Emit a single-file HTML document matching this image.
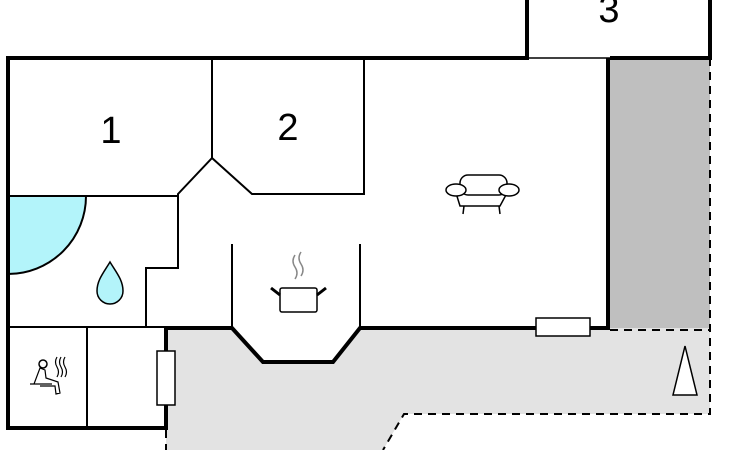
<!DOCTYPE html>
<html><head><style>body{margin:0;background:#fff}svg{display:block}</style></head><body>
<svg width="730" height="450" viewBox="0 0 730 450" xmlns="http://www.w3.org/2000/svg" font-family="Liberation Sans, sans-serif">
<polygon points="166,328 232,328 263,362 333,362 360,328 710,328 710,414 404,414 383,450 166,450" fill="#e3e3e3"/>
<rect x="610" y="58" width="100" height="270" fill="#bfbfbf"/>
<path d="M8,196 L86,196 A78,78 0 0 1 8,274 Z" fill="#b3f4fa" stroke="#000" stroke-width="2"/>
<g stroke="#000" fill="none">
<path d="M8,430 L8,58 L527,58 L527,0 M710,0 L710,58 L610,58" stroke-width="4"/>
<path d="M527,58 L610,58" stroke-width="1.5"/>
<path d="M608,58 L608,328 L360,328 L333,362 L263,362 L232,328 L166,328 L166,428 L8,428" stroke-width="4"/>
<path d="M212,58 L212,158 L178,194 L178,268 L146,268 L146,327 M212,158 L252,194 L364,194 L364,58 M8,196 L178,196 M8,327 L166,327 M87,327 L87,428 M232,244 L232,328 M360,244 L360,328" stroke-width="2"/>
<path d="M710,58 L710,414 L404,414 L383,450 M610,330 L710,330 M166,430 L166,450" stroke-width="2" stroke-dasharray="8,6"/>
</g>
<rect x="157" y="351" width="18" height="54" fill="#fff" stroke="#000" stroke-width="1.5"/>
<rect x="536" y="318" width="54" height="18" fill="#fff" stroke="#000" stroke-width="1.5"/>
<polygon points="673,395 697,395 685,346" fill="#fff" stroke="#000" stroke-width="1.5"/>
<path d="M110,262 C104,272 97,280 97,291 A13,13 0 0 0 123,291 C123,280 116,272 110,262Z" fill="#b3f4fa" stroke="#000" stroke-width="1.5"/>
<g stroke="#000" fill="none" stroke-width="1.5">
<rect x="280" y="288" width="37" height="24" rx="2"/>
<path d="M280,295 L271,288 M317,295 L326,288" stroke-width="3"/>
<path d="M295,255 q-4,6 0,12 q4,6 0,12 M301,252 q-4,6 0,12 q4,6 0,12" stroke="#888"/>
<rect x="460" y="175" width="47" height="20" rx="8"/>
<path d="M456,193 L460,206 L500,206 L507,193 M464,206 L463,214 M499,206 L500,214"/>
<ellipse cx="456" cy="190" rx="10" ry="6" fill="#fff"/>
<ellipse cx="509" cy="190" rx="10" ry="6" fill="#fff"/>
<circle cx="43" cy="364" r="4"/>
<path d="M30,384 L52,384 M34,384 L40,368 L45,370 L46,378 L58,382 L60,393 L56,394 L55,386 L40,386 M57,357 q-3,5 0,10 q3,5 0,10 M61,357 q-3,5 0,10 q3,5 0,10 M65,357 q-3,5 0,10 q3,5 0,10" stroke-width="1.2"/>
</g>
<text x="111" y="143" font-size="38" text-anchor="middle">1</text>
<text x="288" y="140" font-size="38" text-anchor="middle">2</text>
<text x="609" y="22" font-size="38" text-anchor="middle">3</text>
</svg>
</body></html>
